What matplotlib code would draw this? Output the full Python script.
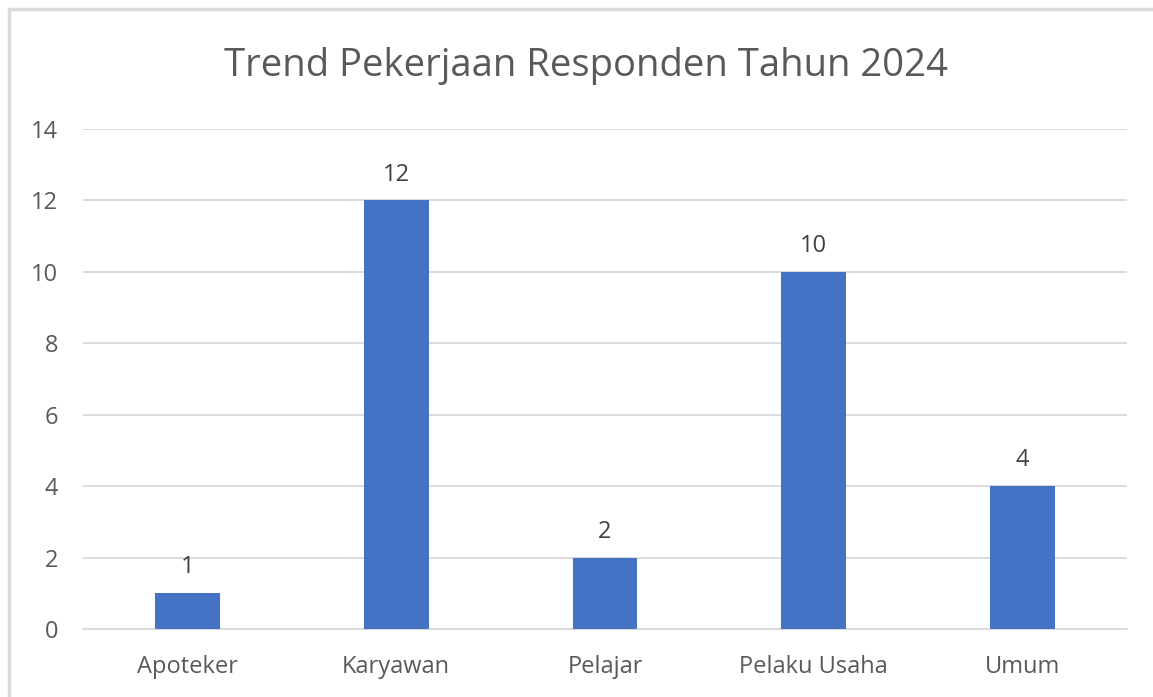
import matplotlib.pyplot as plt
from matplotlib.patches import Rectangle

# Data
categories = ['Apoteker', 'Karyawan', 'Pelajar', 'Pelaku Usaha', 'Umum']
counts = [1, 12, 2, 10, 4]
y_ticks = [0, 2, 4, 6, 8, 10, 12, 14]

plt.rcParams['font.family'] = ['Open Sans', 'DejaVu Sans']
text_color = '#595959'
bar_color = '#4472C4'
grid_color = '#D9D9D9'

fig = plt.figure(figsize=(11.53, 6.97), dpi=100)
ax = fig.add_axes([83 / 1153, 68 / 697, 1044 / 1153, 500 / 697])

x = list(range(len(categories)))
bars = ax.bar(x, counts, width=0.31, color=bar_color, zorder=3)
for b, v in zip(bars, counts):
    ax.annotate(str(v), (b.get_x() + b.get_width() / 2, v), xytext=(0, 10),
                textcoords='offset points', ha='center', va='bottom',
                fontsize=17, color='#404040')

ax.set_xlim(-0.5, len(categories) - 0.5)
ax.set_ylim(0, 14)
ax.set_yticks(y_ticks)
ax.set_xticks(x)
ax.set_xticklabels(categories)
ax.tick_params(axis='both', length=0, labelsize=17, colors=text_color)
ax.tick_params(axis='y', pad=18)
ax.tick_params(axis='x', pad=19)
ax.yaxis.grid(True, color=grid_color, linewidth=1.3, zorder=0)
for s in ['top', 'right', 'left']:
    ax.spines[s].set_visible(False)
ax.spines['bottom'].set_color(grid_color)
ax.spines['bottom'].set_linewidth(1.3)

fig.text(0.508, 1 - 66 / 697, 'Trend Pekerjaan Responden Tahun 2024',
         ha='center', va='center', fontsize=27.5, color=text_color)

# outer chart border (partly cropped in the reference)
fig.patches.append(Rectangle((8.5 / 1153, -0.1), 1.2, 1 - 9 / 697 + 0.1,
                             transform=fig.transFigure, fill=False,
                             edgecolor='#D9D9D9', linewidth=2.5))

fig.savefig('out.png', dpi=100)
